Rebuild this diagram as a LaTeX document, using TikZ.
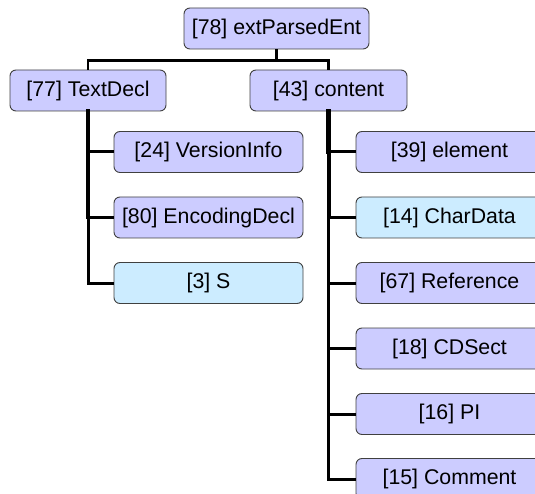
\documentclass[tikz,border=0pt]{standalone}
\usepackage{fontspec}
\setmainfont{Liberation Sans}
\definecolor{boxpurple}{HTML}{CCCCFF}
\definecolor{boxblue}{HTML}{CCECFF}
\definecolor{boxedge}{HTML}{404040}
\begin{document}
\begin{tikzpicture}[x=1pt,y=-1pt,
  prodbox/.style={draw=boxedge, line width=0.9pt, rounded corners=6pt, fill=boxpurple,
    minimum height=41pt, inner sep=0pt, font=\fontsize{21.3}{25}\selectfont},
  termbox/.style={prodbox, fill=boxblue},
  link/.style={line width=3pt, black}]
\useasboundingbox (0,0) rectangle (535,494);
\clip (0,0) rectangle (535,494);

\node[prodbox, minimum width=185pt] (root) at (276.5,28.5) {[78] extParsedEnt};
\node[prodbox, minimum width=156pt] (textdecl) at (88,90.5) {[77] TextDecl};
\node[prodbox, minimum width=157pt] (content) at (328.5,90.5) {[43] content};

\node[prodbox, minimum width=189pt] (versioninfo) at (208.5,152) {[24] VersionInfo};
\node[prodbox, minimum width=189pt] (encodingdecl) at (208.5,217.5) {[80] EncodingDecl};
\node[termbox, minimum width=189pt] (s) at (208.5,283) {[3] S};

\node[prodbox, minimum width=187pt] (element) at (449.5,152) {[39] element};
\node[termbox, minimum width=187pt] (chardata) at (449.5,217.5) {[14] CharData};
\node[prodbox, minimum width=187pt] (reference) at (449.5,283) {[67] Reference};
\node[prodbox, minimum width=187pt] (cdsect) at (449.5,348.5) {[18] CDSect};
\node[prodbox, minimum width=187pt] (pi) at (449.5,414) {[16] PI};
\node[prodbox, minimum width=187pt] (comment) at (449.5,479) {[15] Comment};

\draw[link, line width=3.5pt] (root.south) -- ++(0,11);
\draw[link, line width=2.5pt] (root.south) ++(0,11) -| (textdecl.north);
\draw[link, line width=2.5pt] (root.south) ++(0,11) -| (content.north);

% trunk segments, thinning downwards
\foreach \a/\b/\w in {textdecl.south/versioninfo.west/4,
                      versioninfo.west/encodingdecl.west/3.5,
                      encodingdecl.west/s.west/3}
  \draw[link, line width=\w pt, line cap=rect] (\a -| textdecl.south) -- (\b -| textdecl.south);
\foreach \a/\b/\w in {content.south/element.west/4.5,
                      element.west/chardata.west/4,
                      chardata.west/reference.west/3.5,
                      reference.west/cdsect.west/3.5,
                      cdsect.west/pi.west/3,
                      pi.west/comment.west/2.5}
  \draw[link, line width=\w pt, line cap=rect] (\a -| content.south) -- (\b -| content.south);

\foreach \c in {versioninfo,encodingdecl,s}
  \draw[link] (textdecl.south) |- (\c.west);
\foreach \c in {element,chardata,reference,cdsect,pi,comment}
  \draw[link] (content.south) |- (\c.west);
\end{tikzpicture}
\end{document}
